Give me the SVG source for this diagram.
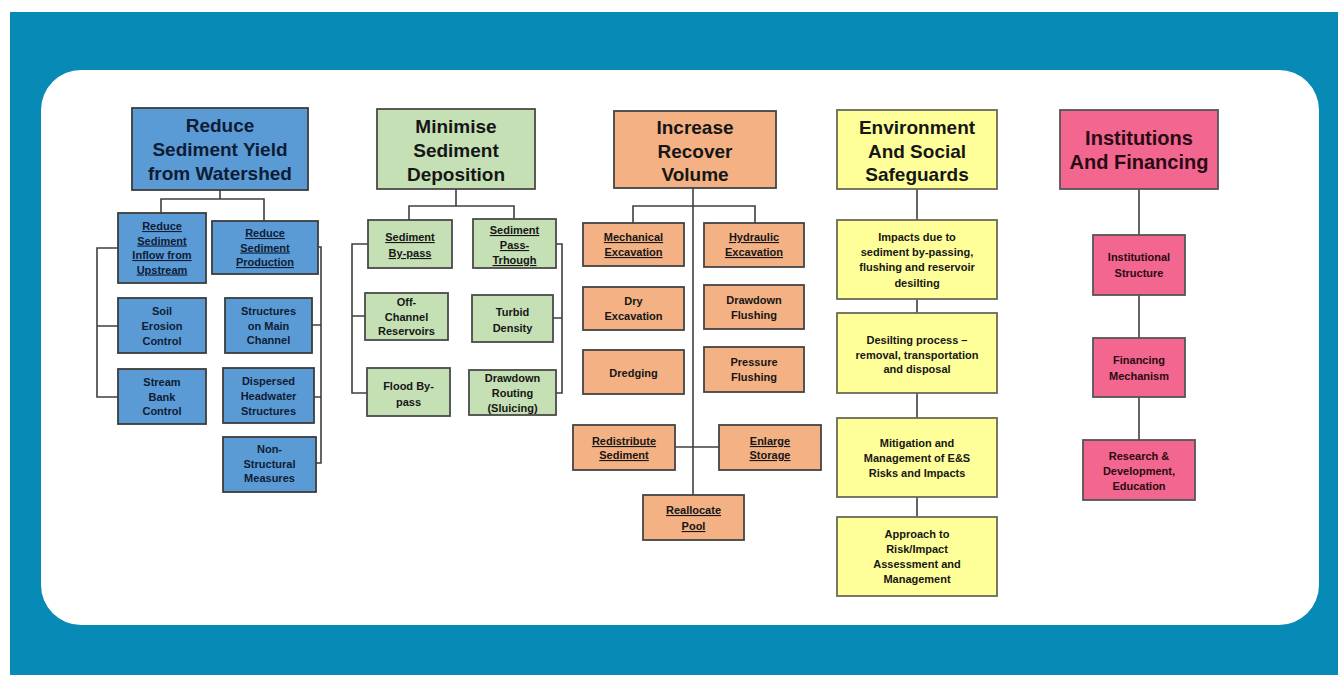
<svg xmlns="http://www.w3.org/2000/svg" width="1338" height="675" viewBox="0 0 1338 675">
<style>
  text { font-family: "Liberation Sans", Arial, sans-serif; font-weight: bold; text-anchor: middle; fill: #161616; }
  .h { font-size: 19px; }
  .h2 { font-size: 20px; }
  .s { font-size: 11px; }
  .u { text-decoration: underline; }
  .blue rect { fill: #5B9BD5; stroke: #3c3c3c; stroke-width: 1.8; }
  .blue text { fill: #0e1c36; }
  .green rect { fill: #C5E0B4; stroke: #4a4a4a; stroke-width: 1.8; }
  .orange rect { fill: #F4B183; stroke: #444; stroke-width: 1.8; }
  .yellow rect { fill: #FFFF99; stroke: #6a6a5a; stroke-width: 1.8; }
  .pink rect { fill: #F2668F; stroke: #555; stroke-width: 1.8; }
  .pink text { fill: #2a0a14; }
  #connectors path { fill: none; stroke: #3f3f3f; stroke-width: 1.6; }
</style>
<rect x="10" y="12" width="1328" height="663" fill="#078BB6"/>
<rect x="41" y="70" width="1278" height="555" rx="40" ry="40" fill="#ffffff"/>

<g id="connectors">
  <!-- column 1 -->
  <path d="M220 190 V199 M161 213 V199 H264 V221"/>
  <path d="M118 248 H97 V397 H118 M97 326 H118"/>
  <path d="M318 247 H321 V463 H316 M321 325 H312 M321 397 H314"/>
  <!-- column 2 -->
  <path d="M456 189 V206 M409 220 V206 H514 V219"/>
  <path d="M368 244 H352 V393 H367 M352 316 H365"/>
  <path d="M556 244 H562 V393 H556 M562 318 H553"/>
  <!-- column 3 -->
  <path d="M693 188 V495"/>
  <path d="M633 223 V206 H755 V223"/>
  <path d="M675 447 H719"/>
  <!-- column 4 -->
  <path d="M917 189 V220 M917 299 V313 M917 393 V418 M917 497 V517"/>
  <!-- column 5 -->
  <path d="M1139 189 V235 M1139 295 V338 M1139 397 V440"/>
</g>

<!-- Column 1: blue -->
<g id="n-reduce-yield" class="blue">
  <rect x="132" y="108" width="176" height="82"/>
  <text class="h" x="220" y="132">Reduce</text>
  <text class="h" x="220" y="156">Sediment Yield</text>
  <text class="h" x="220" y="180">from Watershed</text>
</g>
<g id="n-reduce-inflow" class="blue">
  <rect x="118" y="213" width="88" height="70"/>
  <text class="s u" x="162" y="230">Reduce</text>
  <text class="s u" x="162" y="244.5">Sediment</text>
  <text class="s u" x="162" y="259">Inflow from</text>
  <text class="s u" x="162" y="273.5">Upstream</text>
</g>
<g id="n-reduce-production" class="blue">
  <rect x="212" y="221" width="106" height="53"/>
  <text class="s u" x="265" y="237">Reduce</text>
  <text class="s u" x="265" y="251.5">Sediment</text>
  <text class="s u" x="265" y="266">Production</text>
</g>
<g id="n-soil-erosion" class="blue">
  <rect x="118" y="298" width="88" height="55"/>
  <text class="s" x="162" y="315">Soil</text>
  <text class="s" x="162" y="330">Erosion</text>
  <text class="s" x="162" y="345">Control</text>
</g>
<g id="n-stream-bank" class="blue">
  <rect x="118" y="369" width="88" height="55"/>
  <text class="s" x="162" y="386">Stream</text>
  <text class="s" x="162" y="401">Bank</text>
  <text class="s" x="162" y="415">Control</text>
</g>
<g id="n-structures-main" class="blue">
  <rect x="225" y="298" width="87" height="55"/>
  <text class="s" x="268.5" y="315">Structures</text>
  <text class="s" x="268.5" y="329.5">on Main</text>
  <text class="s" x="268.5" y="344">Channel</text>
</g>
<g id="n-dispersed" class="blue">
  <rect x="223" y="368" width="91" height="55"/>
  <text class="s" x="268.5" y="385">Dispersed</text>
  <text class="s" x="268.5" y="400">Headwater</text>
  <text class="s" x="268.5" y="415">Structures</text>
</g>
<g id="n-non-structural" class="blue">
  <rect x="223" y="437" width="93" height="55"/>
  <text class="s" x="269.5" y="453">Non-</text>
  <text class="s" x="269.5" y="468">Structural</text>
  <text class="s" x="269.5" y="482">Measures</text>
</g>

<!-- Column 2: green -->
<g id="n-minimise" class="green">
  <rect x="377" y="109" width="158" height="80"/>
  <text class="h" x="456" y="133">Minimise</text>
  <text class="h" x="456" y="157">Sediment</text>
  <text class="h" x="456" y="181">Deposition</text>
</g>
<g id="n-bypass" class="green">
  <rect x="368" y="220" width="84" height="48"/>
  <text class="s u" x="410" y="241">Sediment</text>
  <text class="s u" x="410" y="257">By-pass</text>
</g>
<g id="n-passthrough" class="green">
  <rect x="473" y="219" width="83" height="49"/>
  <text class="s u" x="514.5" y="234">Sediment</text>
  <text class="s u" x="514.5" y="249">Pass-</text>
  <text class="s u" x="514.5" y="264">Trhough</text>
</g>
<g id="n-offchannel" class="green">
  <rect x="365" y="293" width="83" height="47"/>
  <text class="s" x="406.5" y="306">Off-</text>
  <text class="s" x="406.5" y="320.5">Channel</text>
  <text class="s" x="406.5" y="335">Reservoirs</text>
</g>
<g id="n-flood-bypass" class="green">
  <rect x="367" y="368" width="83" height="48"/>
  <text class="s" x="408.5" y="390">Flood By-</text>
  <text class="s" x="408.5" y="406">pass</text>
</g>
<g id="n-turbid" class="green">
  <rect x="472" y="295" width="81" height="47"/>
  <text class="s" x="512.5" y="316">Turbid</text>
  <text class="s" x="512.5" y="332">Density</text>
</g>
<g id="n-drawdown-routing" class="green">
  <rect x="469" y="370" width="87" height="45"/>
  <text class="s" x="512.5" y="382">Drawdown</text>
  <text class="s" x="512.5" y="397">Routing</text>
  <text class="s" x="512.5" y="412">(Sluicing)</text>
</g>

<!-- Column 3: orange -->
<g id="n-increase" class="orange">
  <rect x="614" y="111" width="162" height="77"/>
  <text class="h" x="695" y="134">Increase</text>
  <text class="h" x="695" y="157.5">Recover</text>
  <text class="h" x="695" y="181">Volume</text>
</g>
<g id="n-mechanical" class="orange">
  <rect x="583" y="223" width="101" height="43"/>
  <text class="s u" x="633.5" y="241">Mechanical</text>
  <text class="s u" x="633.5" y="256">Excavation</text>
</g>
<g id="n-hydraulic" class="orange">
  <rect x="704" y="223" width="100" height="44"/>
  <text class="s u" x="754" y="241">Hydraulic</text>
  <text class="s u" x="754" y="256">Excavation</text>
</g>
<g id="n-dry" class="orange">
  <rect x="583" y="287" width="101" height="43"/>
  <text class="s" x="633.5" y="305">Dry</text>
  <text class="s" x="633.5" y="320">Excavation</text>
</g>
<g id="n-drawdown-flushing" class="orange">
  <rect x="704" y="285" width="100" height="44"/>
  <text class="s" x="754" y="304">Drawdown</text>
  <text class="s" x="754" y="319">Flushing</text>
</g>
<g id="n-dredging" class="orange">
  <rect x="583" y="350" width="101" height="44"/>
  <text class="s" x="633.5" y="377">Dredging</text>
</g>
<g id="n-pressure" class="orange">
  <rect x="704" y="347" width="100" height="45"/>
  <text class="s" x="754" y="366">Pressure</text>
  <text class="s" x="754" y="381">Flushing</text>
</g>
<g id="n-redistribute" class="orange">
  <rect x="573" y="425" width="102" height="45"/>
  <text class="s u" x="624" y="445">Redistribute</text>
  <text class="s u" x="624" y="459">Sediment</text>
</g>
<g id="n-enlarge" class="orange">
  <rect x="719" y="425" width="102" height="45"/>
  <text class="s u" x="770" y="445">Enlarge</text>
  <text class="s u" x="770" y="459">Storage</text>
</g>
<g id="n-reallocate" class="orange">
  <rect x="643" y="495" width="101" height="45"/>
  <text class="s u" x="693.5" y="514">Reallocate</text>
  <text class="s u" x="693.5" y="530">Pool</text>
</g>

<!-- Column 4: yellow -->
<g id="n-env-social" class="yellow">
  <rect x="837" y="110" width="160" height="79"/>
  <text class="h" x="917" y="134">Environment</text>
  <text class="h" x="917" y="157.5">And Social</text>
  <text class="h" x="917" y="181">Safeguards</text>
</g>
<g id="n-impacts" class="yellow">
  <rect x="837" y="220" width="160" height="79"/>
  <text class="s" x="917" y="241">Impacts due to</text>
  <text class="s" x="917" y="256">sediment by-passing,</text>
  <text class="s" x="917" y="271">flushing and reservoir</text>
  <text class="s" x="917" y="286.5">desilting</text>
</g>
<g id="n-desilting" class="yellow">
  <rect x="837" y="313" width="160" height="80"/>
  <text class="s" x="917" y="344">Desilting process –</text>
  <text class="s" x="917" y="358.5">removal, transportation</text>
  <text class="s" x="917" y="373">and disposal</text>
</g>
<g id="n-mitigation" class="yellow">
  <rect x="837" y="418" width="160" height="79"/>
  <text class="s" x="917" y="447">Mitigation and</text>
  <text class="s" x="917" y="462">Management of E&amp;S</text>
  <text class="s" x="917" y="477">Risks and Impacts</text>
</g>
<g id="n-approach" class="yellow">
  <rect x="837" y="517" width="160" height="79"/>
  <text class="s" x="917" y="538">Approach to</text>
  <text class="s" x="917" y="553">Risk/Impact</text>
  <text class="s" x="917" y="568">Assessment and</text>
  <text class="s" x="917" y="583">Management</text>
</g>

<!-- Column 5: pink -->
<g id="n-institutions" class="pink">
  <rect x="1060" y="110" width="158" height="79"/>
  <text class="h2" x="1139" y="145">Institutions</text>
  <text class="h2" x="1139" y="169">And Financing</text>
</g>
<g id="n-inst-structure" class="pink">
  <rect x="1093" y="235" width="92" height="60"/>
  <text class="s" x="1139" y="261">Institutional</text>
  <text class="s" x="1139" y="277">Structure</text>
</g>
<g id="n-financing" class="pink">
  <rect x="1093" y="338" width="92" height="59"/>
  <text class="s" x="1139" y="364">Financing</text>
  <text class="s" x="1139" y="380">Mechanism</text>
</g>
<g id="n-research" class="pink">
  <rect x="1083" y="440" width="112" height="60"/>
  <text class="s" x="1139" y="460">Research &amp;</text>
  <text class="s" x="1139" y="475">Development,</text>
  <text class="s" x="1139" y="490">Education</text>
</g>
</svg>
